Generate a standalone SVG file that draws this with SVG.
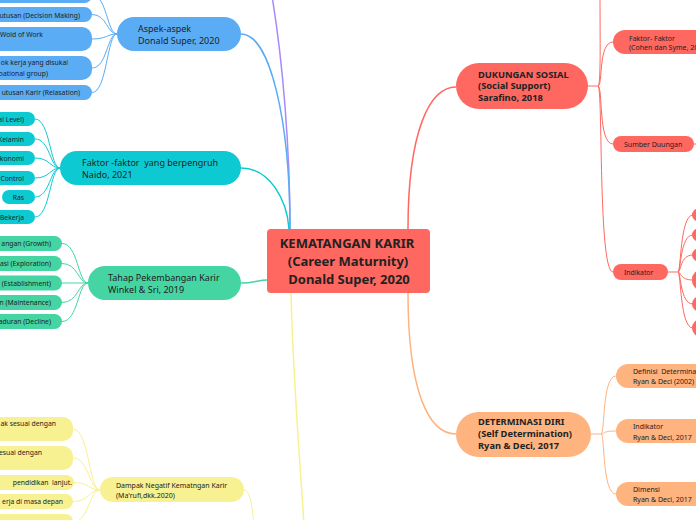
<svg xmlns="http://www.w3.org/2000/svg" width="696" height="520" viewBox="0 0 696 520">
<style>
text{font-family:"Noto Sans","Open Sans",sans-serif;fill:#222}
.c{fill:none;stroke-width:1.5}
.s{fill:none;stroke-width:1}
.bl{stroke:#5AACF5}.cy{stroke:#0DCAD2}.gr{stroke:#44D5A3}.ye{stroke:#F8F191}.rd{stroke:#FF6860}.pe{stroke:#FFB37F}.pu{stroke:#A78BFA}
.fbl{fill:#5AACF5}.fcy{fill:#0DCAD2}.fgr{fill:#44D5A3}.fye{fill:#F8F191}.frd{fill:#FF6860}.fpe{fill:#FFB37F}
.t9{font-size:9px}.t7{font-size:6.8px}.b{font-weight:bold}
.pre{white-space:pre}
</style>
<g id="connectors">
<path class="c pu" d="M290,229 C290,150 283,60 271,-10"/>
<path class="c bl" d="M241,34 C270,34 290,120 290,229"/>
<path class="c cy" d="M241,168 C270,168 287,200 289,229"/>
<path class="c gr" d="M241,283 C255,283 258,280 267,280"/>
<path class="c ye" d="M291,293 C293,380 300,460 304,525"/>
<path class="c rd" d="M408,229 C408,130 430,87 456,87"/>
<path class="c pe" d="M408,293 C408,390 428,434 456,434"/>
<g class="s bl">
<path d="M92,-5 C107,-5 107,34 117,34"/><path d="M92,14.5 C107,14.5 107,34 117,34"/><path d="M92,39 C107,39 107,34 117,34"/><path d="M92,68 C107,68 107,34 117,34"/><path d="M92,92.5 C107,92.5 107,34 117,34"/>
</g>
<g class="s cy">
<path d="M35,119 C50,119 50,168 60,168"/><path d="M35,139 C50,139 50,168 60,168"/><path d="M35,158 C50,158 50,168 60,168"/><path d="M35,178 C50,178 50,168 60,168"/><path d="M35,197 C50,197 50,168 60,168"/><path d="M35,217 C50,217 50,168 60,168"/>
</g>
<g class="s gr">
<path d="M62,243.5 C78,243.5 78,283 88,283"/><path d="M62,263.5 C78,263.5 78,283 88,283"/><path d="M62,283 C78,283 78,283 88,283"/><path d="M62,302.5 C78,302.5 78,283 88,283"/><path d="M62,321.5 C78,321.5 78,283 88,283"/>
</g>
<g class="s ye">
<path d="M73,429 C89,429 89,490 100,490"/><path d="M73,458 C89,458 89,490 100,490"/><path d="M73,482.5 C89,482.5 89,490 100,490"/><path d="M73,501.5 C89,501.5 89,490 100,490"/><path d="M73,522 C89,522 89,490 100,490"/>
<path d="M244,490 C250,490 252,505 254,525"/>
</g>
<g class="s rd">
<path d="M588,86 L598,86"/>
<path d="M598,86 C601,86 600,40 600,-5"/>
<path d="M598,86 C603,86 598,42 613,42"/>
<path d="M598,86 C603,86 598,144 613,144"/>
<path d="M598,86 C603,86 598,272 613,272"/>
<path d="M694,144 L700,144"/>
<path d="M668,272 L678,272"/>
<path d="M678,272 C681,272 680,215 693,215"/><path d="M678,272 C681,272 680,235 693,235"/><path d="M678,272 C681,272 680,255 693,255"/><path d="M678,272 C681,272 680,280 693,280"/><path d="M678,272 C681,272 680,304 693,304"/><path d="M678,272 C681,272 680,328 693,328"/>
</g>
<g class="s pe">
<path d="M591,434 L601,434"/>
<path d="M601,434 C605,434 602,376 616,376"/><path d="M601,434 C605,434 602,431 616,431"/><path d="M601,434 C605,434 602,494 616,494"/>
</g>
</g>
<g id="center"><rect class="frd" x="267" y="229" width="163" height="64" rx="4"/>
<text class="b" font-size="13" text-anchor="middle"><tspan x="347" y="248">KEMATANGAN KARIR</tspan><tspan x="348" y="266">(Career Maturnity)</tspan><tspan x="349" y="284">Donald Super, 2020</tspan></text></g>
<g id="aspek"><rect class="fbl" x="117" y="17" width="124" height="34" rx="17"/>
<text class="t9"><tspan x="138" y="32">Aspek-aspek</tspan><tspan x="138" y="44">Donald Super, 2020</tspan></text></g>
<g id="aspek-children">
<rect class="fbl" x="-100" y="-12" width="192" height="15" rx="7.5"/>
<rect class="fbl" x="-100" y="7" width="192" height="15" rx="7.5"/><text class="t7" x="80" y="17.5" text-anchor="end">utusan (Decision Making)</text>
<rect class="fbl" x="-100" y="27" width="192" height="24" rx="10"/><text class="t7" x="0" y="36.5">Wold of Work</text>
<rect class="fbl" x="-100" y="56" width="192" height="24" rx="10"/><text class="t7" x="68" y="65" text-anchor="end">ok kerja yang disukai</text><text class="t7" x="48" y="75.5" text-anchor="end">oational group)</text>
<rect class="fbl" x="-100" y="85" width="192" height="15" rx="7.5"/><text class="t7" x="80" y="95" text-anchor="end">utusan Karir (Relasation)</text>
</g>
<g id="faktor"><rect class="fcy" x="60" y="151" width="181" height="34" rx="17"/>
<text class="t9 pre"><tspan x="82" y="166">Faktor -faktor  yang berpengruh</tspan><tspan x="82" y="178">Naido, 2021</tspan></text></g>
<g id="faktor-children">
<rect class="fcy" x="-100" y="112" width="135" height="14" rx="7"/><text class="t7" x="24" y="121.5" text-anchor="end">al Level)</text>
<rect class="fcy" x="-100" y="132" width="135" height="14" rx="7"/><text class="t7" x="24" y="141.5" text-anchor="end">Kelamin</text>
<rect class="fcy" x="-100" y="151" width="135" height="14" rx="7"/><text class="t7" x="24" y="160.5" text-anchor="end">konomi</text>
<rect class="fcy" x="-100" y="171" width="135" height="14" rx="7"/><text class="t7" x="24" y="180.5" text-anchor="end">Control</text>
<rect class="fcy" x="2" y="190" width="33" height="14" rx="7"/><text class="t7" x="24" y="199.5" text-anchor="end">Ras</text>
<rect class="fcy" x="-100" y="210" width="135" height="14" rx="7"/><text class="t7" x="24" y="219.5" text-anchor="end">Bekerja</text>
</g>
<g id="tahap"><rect class="fgr" x="88" y="266" width="153" height="34" rx="17"/>
<text class="t9"><tspan x="108" y="281">Tahap Pekembangan Karir</tspan><tspan x="108" y="293">Winkel &amp; Sri, 2019</tspan></text></g>
<g id="tahap-children">
<rect class="fgr" x="-100" y="236" width="162" height="15" rx="7.5"/><text class="t7" x="51" y="246" text-anchor="end">angan (Growth)</text>
<rect class="fgr" x="-100" y="256" width="162" height="15" rx="7.5"/><text class="t7" x="51" y="266" text-anchor="end">asi (Exploration)</text>
<rect class="fgr" x="-100" y="275.5" width="162" height="15" rx="7.5"/><text class="t7" x="51" y="285.5" text-anchor="end">(Establishment)</text>
<rect class="fgr" x="-100" y="295" width="162" height="15" rx="7.5"/><text class="t7" x="51" y="305" text-anchor="end">n (Maintenance)</text>
<rect class="fgr" x="-100" y="314" width="162" height="15" rx="7.5"/><text class="t7" x="51" y="324" text-anchor="end">aduran (Decline)</text>
</g>
<g id="dampak"><rect class="fye" x="100" y="477" width="144" height="25" rx="12.5"/>
<text font-size="7"><tspan x="116" y="487.5">Dampak Negatif Kematngan Karir</tspan><tspan x="116" y="497.5">(Ma'rufi,dkk.2020)</tspan></text></g>
<g id="dampak-children">
<rect class="fye" x="-100" y="417" width="173" height="24" rx="10"/><text class="t7" x="56" y="426" text-anchor="end">ak sesuai dengan</text>
<rect class="fye" x="-100" y="446" width="173" height="24" rx="10"/><text class="t7" x="42" y="455" text-anchor="end">esuai dengan</text>
<rect class="fye" x="-100" y="475" width="174" height="15" rx="7.5"/><text class="t7 pre" x="72" y="485" text-anchor="end">pendidikan  lanjut.</text>
<rect class="fye" x="-100" y="494" width="173" height="15" rx="7.5"/><text class="t7" x="63" y="504.3" text-anchor="end">erja di masa depan</text>
<rect class="fye" x="-100" y="514" width="173" height="16" rx="7.5"/>
</g>
<g id="dukungan"><rect class="frd" x="456" y="63" width="132" height="46" rx="23"/>
<text class="b" font-size="9.3"><tspan x="478" y="77.7">DUKUNGAN SOSIAL</tspan><tspan x="478" y="89.4">(Social Support)</tspan><tspan x="478" y="101.1">Sarafino, 2018</tspan></text></g>
<g id="dukungan-children">
<rect class="frd" x="613" y="30" width="120" height="24" rx="12"/><text font-size="7"><tspan x="629" y="40.7">Faktor- Faktor</tspan><tspan x="629" y="50.3">(Cohen dan Syme, 20</tspan></text>
<rect class="frd" x="613" y="136" width="81" height="16" rx="8"/><text font-size="7" x="624" y="147">Sumber Duungan</text>
<rect class="frd" x="613" y="264" width="55" height="16" rx="8"/><text font-size="6.8" x="624" y="274.5">Indikator</text>
</g>
<g id="indikator-children">
<rect class="frd" x="692" y="208.5" width="40" height="13" rx="6.5"/>
<rect class="frd" x="692" y="228.5" width="40" height="13" rx="6.5"/>
<rect class="frd" x="692" y="248.5" width="40" height="13" rx="6.5"/>
<rect class="frd" x="692" y="270" width="40" height="20" rx="9"/>
<rect class="frd" x="692" y="296.5" width="40" height="15" rx="7.5"/>
<rect class="frd" x="692" y="319" width="40" height="18" rx="9"/>
</g>
<g id="determinasi"><rect class="fpe" x="456" y="412" width="135" height="45" rx="22.5"/>
<text class="b" font-size="9.3"><tspan x="478" y="425.3">DETERMINASI DIRI</tspan><tspan x="478" y="437.3">(Self Determination)</tspan><tspan x="478" y="449.3">Ryan &amp; Deci, 2017</tspan></text></g>
<g id="determinasi-children">
<rect class="fpe" x="616" y="364" width="120" height="24" rx="12"/><text font-size="7" class="pre"><tspan x="633" y="373.5">Definisi  Determina</tspan><tspan x="633" y="384">Ryan &amp; Deci (2002)</tspan></text>
<rect class="fpe" x="616" y="419" width="120" height="24" rx="12"/><text font-size="7"><tspan x="633" y="429">Indikator</tspan><tspan x="633" y="439.5">Ryan &amp; Deci, 2017</tspan></text>
<rect class="fpe" x="616" y="482" width="120" height="24" rx="12"/><text font-size="7"><tspan x="633" y="491.5">Dimensi</tspan><tspan x="633" y="502">Ryan &amp; Deci, 2017</tspan></text>
</g>
</svg>
